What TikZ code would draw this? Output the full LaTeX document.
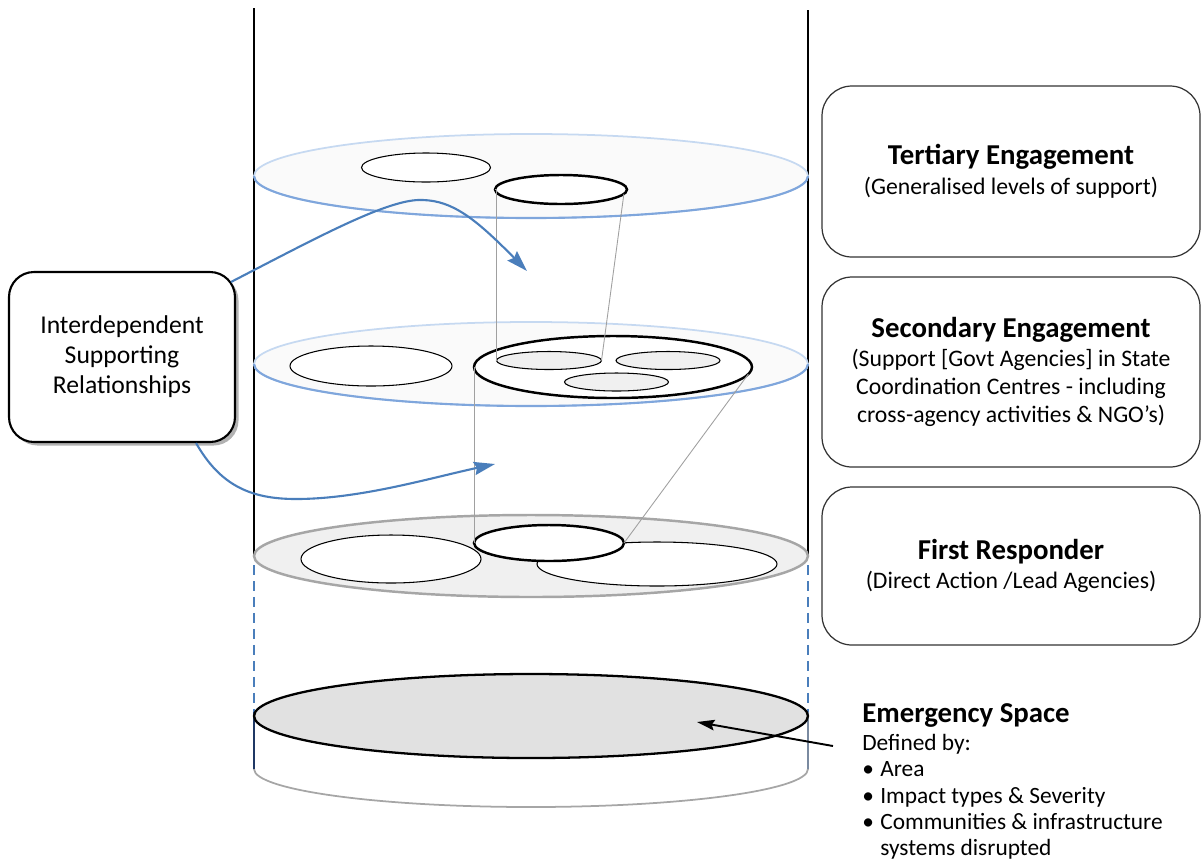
\documentclass[tikz,border=0pt]{standalone}
\usepackage{fontspec}
\setmainfont{Carlito}
\usetikzlibrary{arrows.meta,shadows,shapes.geometric}

\definecolor{ringblue}{HTML}{7FA6DC}
\definecolor{ringpale}{HTML}{C6D9F1}
\definecolor{arrowblue}{HTML}{4A7EBB}
\definecolor{diskfill}{HTML}{FAFAFA}
\definecolor{frfill}{HTML}{F0F0F0}
\definecolor{frline}{HTML}{A6A6A6}
\definecolor{basefill}{HTML}{E1E1E1}
\definecolor{basenavy}{HTML}{1F3864}
\definecolor{baseside}{HTML}{7A8AA0}
\definecolor{linkgrey}{HTML}{A0A0A0}

\newcommand\pxl[1]{#1*0.02cm}
\newlength\bulletgap
\setlength\bulletgap{0.36cm}

\tikzset{
  oval/.style={ellipse, inner sep=0pt, outer sep=0pt, draw=black, fill=white, line width=0.6pt},
  thickoval/.style={oval, line width=1.4pt},
  inneroval/.style={oval, fill=frfill},
  link/.style={draw=linkgrey, line width=0.5pt},
  wall/.style={line width=1.1pt},
  flow/.style={draw=arrowblue, line width=1.2pt, -{Stealth[length=12pt,width=7.5pt,inset=1.5pt]}},
  pointer/.style={draw=black, line width=1.1pt, -{Stealth[length=10pt,width=6pt,inset=1.5pt]}},
  sidebox/.style={draw=black!80, line width=0.7pt, rounded corners=0.6cm, minimum width=\pxl{378},
    align=center, inner sep=0pt, font=\fontsize{13.5pt}{15.9pt}\selectfont},
}
\newcommand\ttl[1]{{\fontsize{16.4pt}{16.4pt}\selectfont\bfseries #1}}

\begin{document}
\begin{tikzpicture}[x=0.02cm, y=-0.02cm]
\useasboundingbox (0,0) rectangle (1202,863);

% cylinder walls
\draw[wall] (254,8) -- (254,557);
\draw[wall] (808,10) -- (808,557);
\draw[arrowblue, line width=1pt, dash pattern=on 5.7pt off 3.4pt] (254,565) -- (254,712);
\draw[arrowblue, line width=1pt, dash pattern=on 5.7pt off 3.4pt] (808,565) -- (808,712);

% base disk: emergency space
\draw[basenavy, line width=1pt] (254,712) -- (254,769);
\draw[baseside, line width=1pt] (808,712) -- (808,769);
\begin{scope}
  \clip (240,769) rectangle (830,830);
  \draw[frline, line width=1pt] (531,769) ellipse [x radius=277, y radius=38];
\end{scope}
\draw[black, line width=1.3pt, fill=basefill] (531,716) ellipse [x radius=277, y radius=42];

% first responder level
\draw[frline, line width=1.4pt, fill=frfill] (531,556) ellipse [x radius=277, y radius=41];
\node[oval, minimum width=\pxl{180}, minimum height=\pxl{48}] (f1) at (391,559) {};
\node[oval, minimum width=\pxl{240}, minimum height=\pxl{44}] (f2) at (657,564) {};
\node[thickoval, minimum width=\pxl{150}, minimum height=\pxl{36}] (f3) at (549,543) {};

% secondary level
\draw[ringpale, line width=1pt, fill=diskfill] (531,364) ellipse [x radius=277, y radius=42];
\begin{scope}
  \clip (240,364) rectangle (830,420);
  \draw[ringblue, line width=1.2pt] (531,364) ellipse [x radius=277, y radius=42];
\end{scope}
\node[oval, minimum width=\pxl{162}, minimum height=\pxl{40}] (s1) at (371,366) {};
\node[thickoval, minimum width=\pxl{278}, minimum height=\pxl{62}] (s2) at (613,367) {};
\node[inneroval, minimum width=\pxl{105}, minimum height=\pxl{18}] (s3) at (549,360.5) {};
\node[inneroval, minimum width=\pxl{104}, minimum height=\pxl{18}] (s4) at (668,360.5) {};
\node[inneroval, minimum width=\pxl{104}, minimum height=\pxl{18}] (s5) at (616.5,382) {};

% tertiary level
\draw[ringpale, line width=1pt, fill=diskfill] (531,176) ellipse [x radius=277, y radius=42];
\begin{scope}
  \clip (240,176) rectangle (830,230);
  \draw[ringblue, line width=1.2pt] (531,176) ellipse [x radius=277, y radius=42];
\end{scope}
\node[oval, minimum width=\pxl{129}, minimum height=\pxl{29}] (t1) at (426,167.5) {};
\node[thickoval, minimum width=\pxl{132}, minimum height=\pxl{29}] (t2) at (561,189.5) {};

% projection lines between levels
\draw[link] (t2.west) -- (s3.west |- t2.west) -- (s3.west);
\draw[link] (t2.-4) -- (s3.east);
\draw[link] (s2.west) -- (f3.west);
\draw[link] (s2.-3.5) -- (f3.east);

% side labels
\node[sidebox, minimum height=\pxl{171}] (tert) at (1011,171.5)
  {\ttl{Tertiary Engagement}\\[1pt](Generalised levels of support)};
\node[sidebox, minimum height=\pxl{190}] (sec) at (1011,372)
  {\ttl{Secondary Engagement}\\[1pt](Support [Govt Agencies] in State\\Coordination Centres - including\\cross-agency activities \& NGO’s)};
\node[sidebox, minimum height=\pxl{158}] (first) at (1011,566)
  {\ttl{First Responder}\\[1pt](Direct Action /Lead Agencies)};

% relationships box and its arrows
\node[draw=black, line width=1.2pt, rounded corners=0.5cm, fill=white,
      minimum width=\pxl{226}, minimum height=\pxl{170}, align=center,
      drop shadow={shadow xshift=2pt, shadow yshift=-2pt, opacity=0.3, fill=black},
      font=\fontsize{14.6pt}{17pt}\selectfont] (irel) at (122,357)
  {Interdependent\\Supporting\\Relationships};
\coordinate (upTip) at (527,271);
\coordinate (lowTip) at (495,464);
\draw[flow] ([shift={(-5,11)}]irel.north east) .. controls (320,236) and (390,198) .. (423,200)
  .. controls (452,201) and (474,217) .. (upTip);
\draw[flow] ([shift={(-40,0)}]irel.south east) .. controls (220,485) and (250,499) .. (296,499)
  .. controls (360,499) and (430,478) .. (lowTip);

% emergency space label
\node[anchor=north west, align=left, inner sep=0pt,
      font=\fontsize{13.3pt}{15pt}\selectfont] (emg) at (862,703)
  {\ttl{Emergency Space}\\[1pt]
   Defined by:\\
   \makebox[\bulletgap][l]{\textbullet}Area\\
   \makebox[\bulletgap][l]{\textbullet}Impact types \& Severity\\
   \makebox[\bulletgap][l]{\textbullet}Communities \& infrastructure\\
   \hspace*{\bulletgap}systems disrupted};
\coordinate (baseTip) at (697,722);
\draw[pointer] ([shift={(-29,43)}]emg.north west) -- (baseTip);
\end{tikzpicture}
\end{document}
